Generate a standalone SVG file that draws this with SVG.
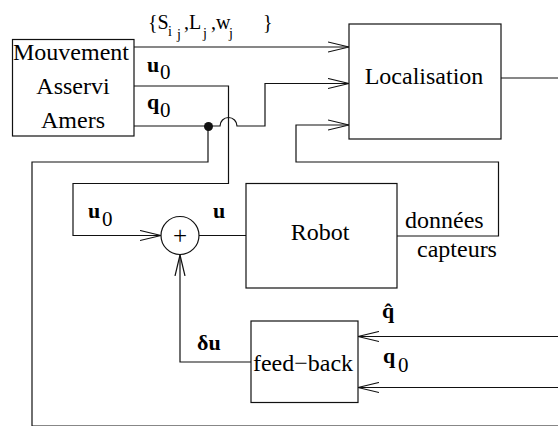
<svg xmlns="http://www.w3.org/2000/svg" width="558" height="426" viewBox="0 0 558 426" font-family="'Liberation Serif', 'DejaVu Serif', serif">
<style>
.box{fill:#fff;stroke:#111;stroke-width:1.2}
.ln{fill:none;stroke:#111;stroke-width:1.2}
.arr{marker-end:url(#open)}
text{font-family:'Liberation Serif','DejaVu Serif',serif;fill:#000}
.n{font-size:24px}
.lbl{font-size:20px}
.sub{font-size:14px}
.b{font-size:22px;font-weight:bold}
.s0{font-size:21px}
</style>
<defs>
<marker id="open" markerUnits="userSpaceOnUse" markerWidth="22" markerHeight="12" refX="21" refY="6" orient="auto">
<path d="M0,1 L21,6 L0,11" fill="none" stroke="#111" stroke-width="1.2"/>
</marker>
</defs>
<rect width="558" height="426" fill="#fff"/>
<g id="connectors">
<path class="ln arr" d="M134,47 H349"/>
<path class="ln arr" d="M134,126 H220 A8.5,8.5 0 0 1 237,126 H265 V83.5 H349"/>
<path class="ln arr" d="M134,86 H228.5 V183.5 H73 V235.5 H161"/>
<path class="ln" d="M208,126 V162 H32 V426 H558"/>
<circle cx="208.5" cy="126.5" r="4.5" fill="#111"/>
<path class="ln" d="M199,235.5 H246"/>
<path class="ln arr" d="M397,236 H498.5 V162 H296 V125 H349"/>
<path class="ln" d="M501,78 H558"/>
<path class="ln arr" d="M251,362 H180 V255"/>
<path class="ln arr" d="M558,336.5 H358"/>
<path class="ln arr" d="M558,387.5 H358"/>
</g>
<g id="mouvement">
<rect class="box" x="12.5" y="39.5" width="121.5" height="96.5"/>
<text class="n" x="71" y="60" text-anchor="middle">Mouvement</text>
<text class="n" x="73" y="94" text-anchor="middle">Asservi</text>
<text class="n" x="73" y="128" text-anchor="middle">Amers</text>
</g>
<g id="localisation">
<rect class="box" x="349" y="24" width="152" height="115"/>
<text class="n" x="424" y="84" text-anchor="middle">Localisation</text>
</g>
<g id="sum">
<circle cx="180" cy="235.5" r="19" fill="#fff" stroke="#111" stroke-width="1.2"/>
<text x="180" y="243.5" text-anchor="middle" style="font-size:25px">+</text>
</g>
<g id="robot">
<rect class="box" x="246" y="183.5" width="151" height="104.5"/>
<text class="n" x="320" y="240" text-anchor="middle">Robot</text>
</g>
<g id="feedback">
<rect class="box" x="251" y="321" width="107" height="81.5"/>
<text class="n" x="303" y="371" text-anchor="middle">feed−back</text>
</g>
<g id="labels">
<text class="lbl"><tspan x="148" y="29">{S</tspan><tspan class="sub" x="168" y="36">i</tspan><tspan class="sub" x="177" y="39">j</tspan><tspan x="184" y="29">,L</tspan><tspan class="sub" x="203" y="38">j</tspan><tspan x="211" y="29">,w</tspan><tspan class="sub" x="229" y="38">j</tspan><tspan x="263" y="29">}</tspan></text>
<text><tspan class="b" x="147" y="72">u</tspan><tspan class="s0" x="160" y="79">0</tspan></text>
<text><tspan class="b" x="147" y="109">q</tspan><tspan class="s0" x="160" y="117">0</tspan></text>
<text><tspan class="b" x="88" y="218">u</tspan><tspan class="s0" x="102" y="226">0</tspan></text>
<text class="b" x="213" y="218">u</text>
<text class="b" x="197" y="350">δu</text>
<text class="b" x="382" y="318">q̂</text>
<text><tspan class="b" x="383" y="363">q</tspan><tspan class="s0" x="398" y="372">0</tspan></text>
<text class="n" x="405" y="228">données</text>
<text class="n" x="417" y="257">capteurs</text>
</g>
</svg>
